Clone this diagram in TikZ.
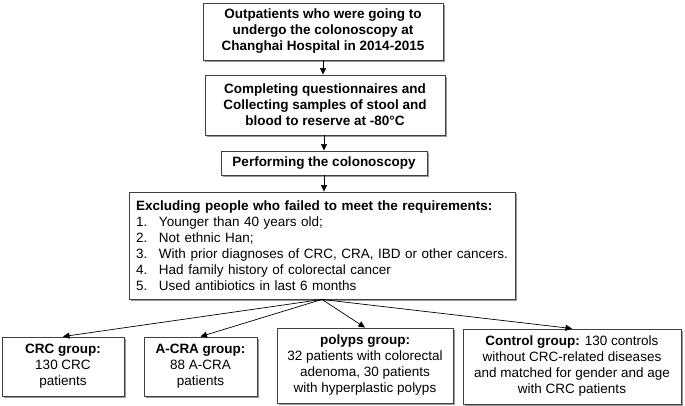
\documentclass[tikz,border=0pt]{standalone}
\usepackage{fontspec}
\setmainfont{Liberation Sans}
\usetikzlibrary{arrows.meta,shadows}
\newcommand\numitem[2]{\mbox{\makebox[23pt][l]{#1}#2}}
\begin{document}
\begin{tikzpicture}[x=1pt,y=-1pt,
  box/.style={draw=black!75, line width=0.9pt, fill=white, inner sep=0pt, align=center,
    font=\fontsize{13.5}{16}\selectfont,
    drop shadow={shadow xshift=1.7pt, shadow yshift=-1.7pt, fill=black!40, opacity=1}},
  boldbox/.style={box, font=\fontsize{13.5}{16}\selectfont\bfseries},
  arr/.style={line width=0.7pt, draw=black, -{Triangle[length=6.5pt,width=6pt]}}
]
\useasboundingbox (0,0) rectangle (685,406);
\node[boldbox, minimum width=240pt, minimum height=57pt] (b1) at (323,31.5)
  {Outpatients who were going to\\undergo the colonoscopy at\\Changhai Hospital in 2014-2015};
\node[boldbox, minimum width=240pt, minimum height=60pt] (b2) at (325,105)
  {Completing questionnaires and\\Collecting samples of stool and\\blood to reserve at -80°C};
\node[boldbox, minimum width=206pt, minimum height=24pt] (b3) at (324,163)
  {Performing the colonoscopy};
\node[box, text width=372pt, align=left, inner xsep=7pt, minimum height=107pt] (b4) at (322,245.5)
  {\mbox{\textbf{Excluding people who failed to meet the requirements:}}\\
   \numitem{1.}{Younger than 40 years old;}\\
   \numitem{2.}{Not ethnic Han;}\\
   \numitem{3.}{With prior diagnoses of CRC, CRA, IBD or other cancers.}\\
   \numitem{4.}{Had family history of colorectal cancer}\\
   \numitem{5.}{Used antibiotics in last 6 months}};
\node[box, minimum width=122pt, minimum height=59pt] (crc) at (63,366.5)
  {\textbf{CRC group:}\\130 CRC\\patients};
\node[box, minimum width=113pt, minimum height=59pt] (acra) at (200.5,366.5)
  {\textbf{A-CRA group:}\\88 A-CRA\\patients};
\node[box, minimum width=176pt, minimum height=75pt] (pol) at (365,365.5)
  {\textbf{polyps group:}\\32 patients with colorectal\\adenoma, 30 patients\\with hyperplastic polyps};
\node[box, minimum width=218pt, minimum height=75pt] (ctl) at (572,366.5)
  {\textbf{Control group:} 130 controls\\without CRC-related diseases\\and matched for gender and age\\with CRC patients};
\draw[arr] (b1.south) -- (b1.south |- b2.north);
\draw[arr] (b3.north |- b2.south) -- (b3.north);
\draw[arr] (b3.south) -- (b3.south |- b4.north);
\draw[arr] (b4.south) -- (crc.north);
\draw[arr] (b4.south) -- (acra.north);
\draw[arr] (b4.south) -- (pol.north);
\draw[arr] (b4.south) -- (ctl.north);
\end{tikzpicture}
\end{document}
